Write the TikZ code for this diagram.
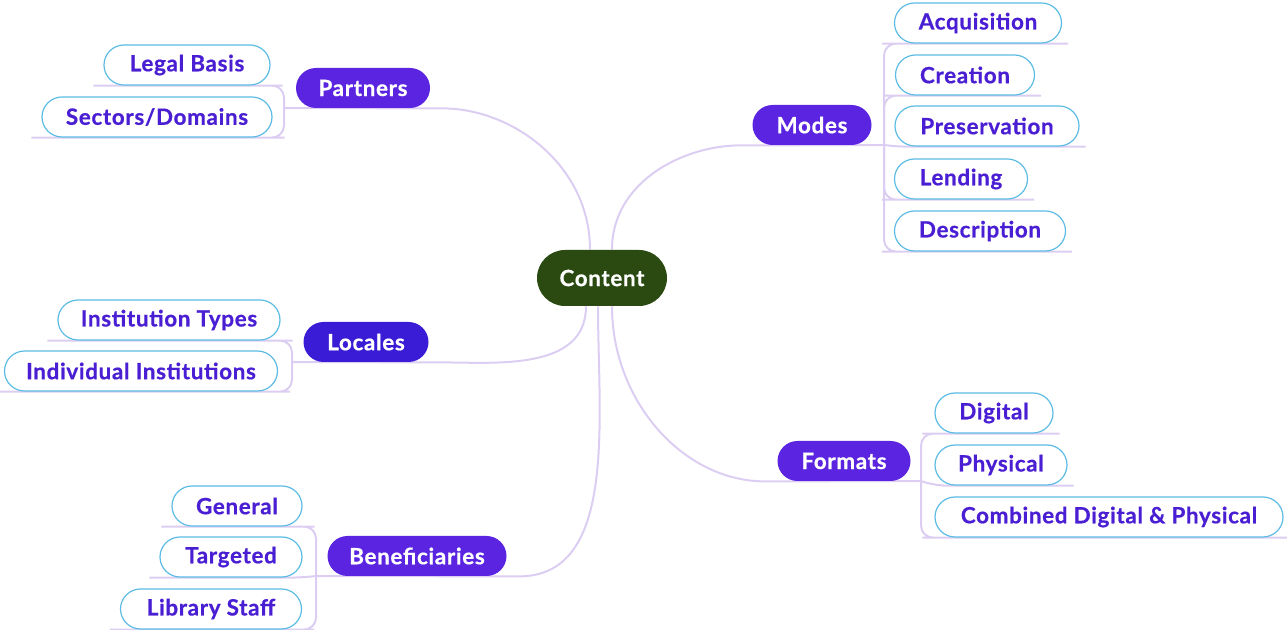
\documentclass[tikz,border=0pt]{standalone}
\usepackage{fontspec}
\setmainfont{Lato}[LetterSpace=3,BoldFeatures={FakeBold=0.6}]
\usetikzlibrary{positioning}
\definecolor{hubgreen}{HTML}{2B4A12}
\definecolor{topicpurple}{HTML}{5A24E0}
\definecolor{localeblue}{HTML}{3B1CD6}
\definecolor{leafborder}{HTML}{5CBCE4}
\definecolor{leaftext}{HTML}{4A1FD4}
\definecolor{branchline}{HTML}{DCCEF2}
\pgfdeclarelayer{bg}
\pgfsetlayers{bg,main}
\begin{document}
\begin{tikzpicture}[x=0.5pt,y=-0.5pt]
    \tikzset{hub/.style = {fill=hubgreen,text=white,rounded corners=14pt,minimum height=28pt,minimum width=65pt,inner xsep=4pt,font=\bfseries\fontsize{11.2}{13}\selectfont}}
    \tikzset{topic/.style = {fill=topicpurple,text=white,rounded corners=10pt,minimum height=20pt,inner xsep=4pt,font=\bfseries\fontsize{11.2}{13}\selectfont}}
    \tikzset{leaf/.style = {draw=leafborder,line width=0.6pt,fill=white,text=leaftext,rounded corners=10pt,minimum height=20pt,inner xsep=4pt,font=\bfseries\fontsize{11.2}{13}\selectfont}}
    \tikzset{branch/.style = {draw=branchline,line width=1pt,rounded corners=6pt}}
    \useasboundingbox (0,0) rectangle (1287,630);
    \node[hub] (content) at (602,278) {Content};
    \node[topic, minimum width=67pt] (partners) at (363,88) {Partners};
    \node[topic, minimum width=59.5pt] (modes) at (812,125) {Modes};
    \node[topic, minimum width=62.5pt, fill=localeblue] (locales) at (366,342) {Locales};
    \node[topic, minimum width=66.5pt] (formats) at (844,461) {Formats};
    \node[topic, minimum width=89.5pt] (benef) at (417,556) {Beneficiaries};
    \node[leaf, minimum width=83pt] (legal) at (187,65) {Legal Basis};
    \node[leaf, minimum width=115pt] (sectors) at (157,117) {Sectors/Domains};
    \node[leaf, minimum width=111pt] (insttypes) at (169,320) {Institution Types};
    \node[leaf, minimum width=136.5pt] (indiv) at (141,371) {Individual Institutions};
    \node[leaf, minimum width=65pt] (general) at (237,506) {General};
    \node[leaf, minimum width=71pt] (targeted) at (231,557) {Targeted};
    \node[leaf, minimum width=90.5pt] (staff) at (211,609) {Library Staff};
    \node[leaf, minimum width=83.5pt] (acq) at (978,23) {Acquisition};
    \node[leaf, minimum width=69.5pt] (creation) at (965,75) {Creation};
    \node[leaf, minimum width=92pt] (pres) at (987,126) {Preservation};
    \node[leaf, minimum width=66.5pt] (lending) at (961,179) {Lending};
    \node[leaf, minimum width=85.5pt] (descr) at (980,231) {Description};
    \node[leaf, minimum width=59pt] (digital) at (994,413) {Digital};
    \node[leaf, minimum width=66pt] (physical) at (1001,465) {Physical};
    \node[leaf, minimum width=174pt] (combined) at (1109,517) {Combined Digital \& Physical};
    \coordinate (jP) at (284,108);
    \coordinate (jM) at (884,145);
    \coordinate (jL) at (292,362);
    \coordinate (jF) at (921,481);
    \coordinate (jB) at (316,576);
    \begin{pgfonlayer}{bg}
    \draw[branch] (jP) -- (partners.south east) to[out=0,in=90] ([xshift=-6pt]content.north);
    \draw[branch] ([xshift=5pt]content.north) to[out=90,in=180] (modes.south west) -- (jM);
    \draw[branch] ([xshift=-8pt]content.south) to[out=-90,in=0] (locales.south east) -- (jL);
    \draw[branch] ([xshift=-2pt]content.south) to[out=-90,in=0] (benef.south east) -- (jB);
    \draw[branch] ([xshift=5pt]content.south) to[out=-90,in=180] (formats.south west) -- (jF);
    \draw[branch] (jP) |- (legal.south east) -- ([xshift=-5pt]legal.south west);
    \draw[branch] (jP) |- (sectors.south east) -- ([xshift=-5pt]sectors.south west);
    \draw[branch] (jL) |- (insttypes.south east) -- ([xshift=-5pt]insttypes.south west);
    \draw[branch] (jL) |- (indiv.south east) -- ([xshift=-5pt]indiv.south west);
    \draw[branch] (jB) |- (general.south east) -- ([xshift=-5pt]general.south west);
    \draw[branch] (jB) -- (targeted.south east) -- ([xshift=-5pt]targeted.south west);
    \draw[branch] (jB) |- (staff.south east) -- ([xshift=-5pt]staff.south west);
    \draw[branch] (jM) |- (acq.south west) -- ([xshift=3pt]acq.south east);
    \draw[branch] (jM) |- (creation.south west) -- ([xshift=3pt]creation.south east);
    \draw[branch] (jM) -- (pres.south west) -- ([xshift=3pt]pres.south east);
    \draw[branch] (jM) |- (lending.south west) -- ([xshift=3pt]lending.south east);
    \draw[branch] (jM) |- (descr.south west) -- ([xshift=3pt]descr.south east);
    \draw[branch] (jF) |- (digital.south west) -- ([xshift=3pt]digital.south east);
    \draw[branch] (jF) -- (physical.south west) -- ([xshift=3pt]physical.south east);
    \draw[branch] (jF) |- (combined.south west) -- ([xshift=3pt]combined.south east);
    \end{pgfonlayer}
\end{tikzpicture}
\end{document}
